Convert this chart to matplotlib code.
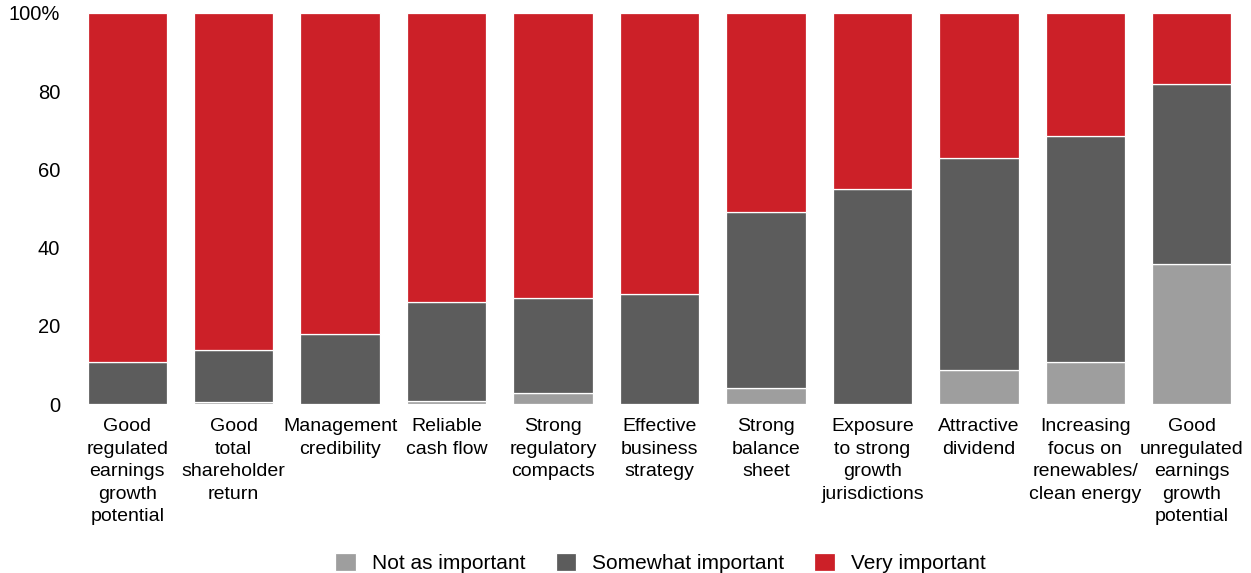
import numpy as np
import matplotlib
matplotlib.use("Agg")
from matplotlib import pyplot as plt

plt.rcParams['font.family'] = ['Liberation Sans', 'DejaVu Sans']

categories = [
    "Good\nregulated\nearnings\ngrowth\npotential",
    "Good\ntotal\nshareholder\nreturn",
    "Management\ncredibility",
    "Reliable\ncash flow",
    "Strong\nregulatory\ncompacts",
    "Effective\nbusiness\nstrategy",
    "Strong\nbalance\nsheet",
    "Exposure\nto strong\ngrowth\njurisdictions",
    "Attractive\ndividend",
    "Increasing\nfocus on\nrenewables/\nclean energy",
    "Good\nunregulated\nearnings\ngrowth\npotential",
]
not_important = [0, 0.5, 0, 0.8, 2.8, 0, 4.2, 0, 8.8, 10.7, 35.9]
somewhat_important = [10.9, 13.4, 18.0, 25.2, 24.3, 28.2, 44.8, 55.1, 54.2, 57.7, 46.0]
very_important = [100 - a - b for a, b in zip(not_important, somewhat_important)]

series_names = ["Not as important", "Somewhat important", "Very important"]
colors = ["#9e9e9e", "#5c5c5c", "#cc2028"]
yticks = [0, 20, 40, 60, 80, 100]
ytick_labels = ["0", "20", "40", "60", "80", "100%"]

fig = plt.figure(figsize=(12.51, 5.73), dpi=100)
ax = fig.add_axes([74 / 1251, 1 - 404.3 / 573, (1245 - 74) / 1251, (404.3 - 12.7) / 573])

x = np.arange(len(categories))
bottom = np.zeros(len(categories))
for vals, name, c in zip([not_important, somewhat_important, very_important], series_names, colors):
    ax.bar(x, vals, bottom=bottom, width=0.745, color=c, edgecolor="white",
           linewidth=0.9, label=name)
    bottom += np.array(vals)

ax.set_xlim(-0.5, len(categories) - 0.5)
ax.set_ylim(0, 100)
ax.set_yticks(yticks)
ax.set_yticklabels(ytick_labels, fontsize=14.5)
ax.set_xticks(x)
ax.set_xticklabels(categories, fontsize=14, va="top", linespacing=1.42)
ax.tick_params(length=0, axis="y", pad=10)
ax.tick_params(length=0, axis="x", pad=10)
for s in ax.spines.values():
    s.set_visible(False)

ax.legend(loc="center", bbox_to_anchor=(0.5 + 1 / 1171, -0.405), ncol=3, frameon=False,
          fontsize=15, handlelength=1.0, handleheight=1.0, columnspacing=1.45,
          handletextpad=0.75, borderaxespad=0)

fig.savefig("out.png", dpi=100)
